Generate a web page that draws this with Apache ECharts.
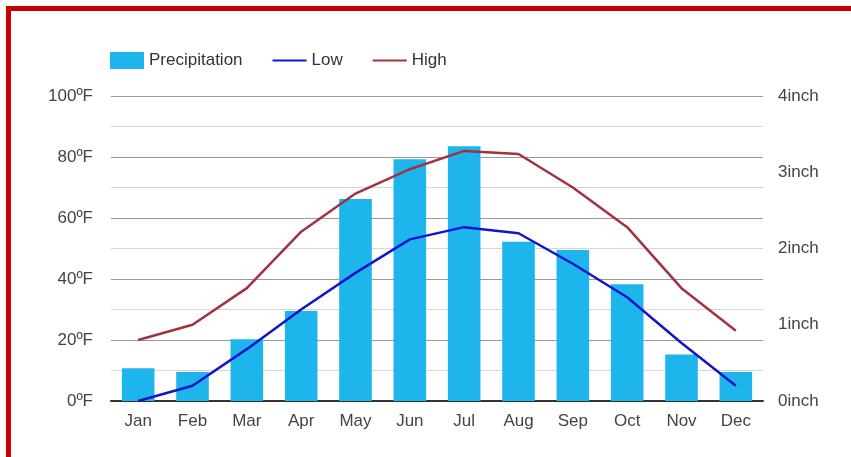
<!DOCTYPE html>
<html>
<head>
<meta charset="utf-8">
<script src="https://cdn.jsdelivr.net/npm/echarts@6/dist/echarts.min.js"></script>
<style>
html,body{margin:0;padding:0;background:#fff;overflow:hidden;}
#frame{position:absolute;left:6px;top:6px;width:900px;height:500px;border:5px solid #c40000;box-sizing:content-box;}
#chart{position:absolute;left:0;top:0;width:851px;height:457px;}
</style>
</head>
<body>
<div id="frame"></div>
<div id="chart"></div>
<script>
const months = ['Jan','Feb','Mar','Apr','May','Jun','Jul','Aug','Sep','Oct','Nov','Dec'];
const precipitation = [0.43, 0.38, 0.81, 1.18, 2.65, 3.17, 3.34, 2.09, 1.98, 1.53, 0.61, 0.38];
const low = [0, 5, 17, 30, 42, 53, 57, 55, 45, 34, 19, 5];
const high = [20, 25, 37, 55.5, 68, 76, 82, 81, 70, 57, 37, 23];
const tempTicks = {min: 0, max: 100, interval: 20};
const rainTicks = {min: 0, max: 4, interval: 1};

const chart = echarts.init(document.getElementById('chart'), null, {renderer: 'canvas'});
const labelFont = {color: '#444', fontSize: 17, fontFamily: 'Liberation Sans, Arial, sans-serif'};
const hiddenSymbol = {opacity: 0, color: 'transparent', borderColor: 'transparent', borderWidth: 0};
chart.setOption({
  animation: false,
  backgroundColor: 'transparent',
  legend: {
    left: 105, top: 47,
    itemWidth: 34, itemHeight: 17, itemGap: 29,
    textStyle: Object.assign({}, labelFont, {color: '#333'}),
    data: [
      {name: 'Precipitation', icon: 'rect'},
      {name: 'Low', itemStyle: hiddenSymbol},
      {name: 'High', itemStyle: hiddenSymbol}
    ]
  },
  grid: {left: 111, right: 88, top: 96, bottom: 56},
  xAxis: {
    type: 'category',
    data: months,
    axisTick: {show: false},
    axisLine: {lineStyle: {color: '#333', width: 2}},
    axisLabel: Object.assign({margin: 12}, labelFont)
  },
  yAxis: [
    {
      type: 'value', min: tempTicks.min, max: tempTicks.max, interval: tempTicks.interval,
      axisLabel: Object.assign({formatter: '{value}ºF', margin: 18}, labelFont),
      axisLine: {show: false}, axisTick: {show: false},
      splitLine: {lineStyle: {color: '#9a9a9a', width: 1}},
      minorTick: {show: false, splitNumber: 2},
      minorSplitLine: {show: true, lineStyle: {color: '#d6d6d6', width: 1}}
    },
    {
      type: 'value', min: rainTicks.min, max: rainTicks.max, interval: rainTicks.interval,
      axisLabel: Object.assign({formatter: '{value}inch', margin: 15}, labelFont),
      axisLine: {show: false}, axisTick: {show: false},
      splitLine: {show: false}
    }
  ],
  series: [
    {
      name: 'Precipitation', type: 'bar', yAxisIndex: 1,
      data: precipitation, barWidth: '60%',
      itemStyle: {color: '#1EB4EC'}
    },
    {
      name: 'Low', type: 'line', yAxisIndex: 0, data: low,
      symbol: 'none',
      lineStyle: {color: '#1414C8', width: 2.5}, itemStyle: {color: '#1414C8'}
    },
    {
      name: 'High', type: 'line', yAxisIndex: 0, data: high,
      symbol: 'none',
      lineStyle: {color: '#A3323F', width: 2.5}, itemStyle: {color: '#A3323F'}
    }
  ]
});
</script>
</body>
</html>
